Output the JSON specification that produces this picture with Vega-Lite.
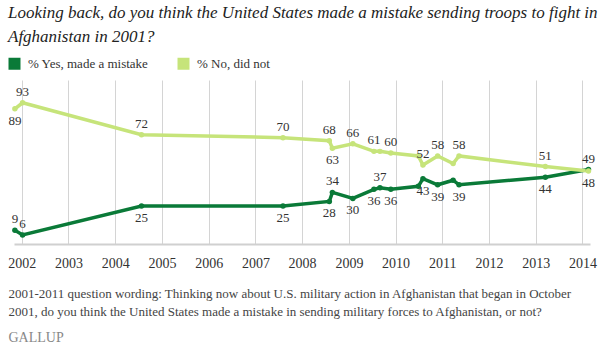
{
  "$schema": "https://vega.github.io/schema/vega-lite/v6.json",
  "width": 576,
  "height": 164,
  "autosize": {"type": "none"},
  "padding": {"left": 14, "top": 80, "right": 18, "bottom": 109},
  "background": "white",
  "title": {
    "text": ["Looking back, do you think the United States made a mistake sending troops to fight in", "Afghanistan in 2001?"],
    "anchor": "start",
    "frame": "group",
    "dx": -6,
    "offset": 11,
    "font": "Liberation Serif",
    "fontStyle": "italic",
    "fontSize": 17,
    "fontWeight": "normal",
    "color": "#222",
    "lineHeight": 24
  },
  "data": {
    "values": [
      {"date": "2001-11-08", "series": "% Yes, made a mistake", "value": 9},
      {"date": "2002-01-07", "series": "% Yes, made a mistake", "value": 6},
      {"date": "2004-07-25", "series": "% Yes, made a mistake", "value": 25},
      {"date": "2007-08-05", "series": "% Yes, made a mistake", "value": 25},
      {"date": "2008-08-01", "series": "% Yes, made a mistake", "value": 28},
      {"date": "2008-08-25", "series": "% Yes, made a mistake", "value": 34},
      {"date": "2009-02-01", "series": "% Yes, made a mistake", "value": 30},
      {"date": "2009-07-16", "series": "% Yes, made a mistake", "value": 36},
      {"date": "2009-09-01", "series": "% Yes, made a mistake", "value": 37},
      {"date": "2009-11-25", "series": "% Yes, made a mistake", "value": 36},
      {"date": "2010-06-28", "series": "% Yes, made a mistake", "value": 38},
      {"date": "2010-08-03", "series": "% Yes, made a mistake", "value": 43},
      {"date": "2010-11-26", "series": "% Yes, made a mistake", "value": 39},
      {"date": "2011-03-27", "series": "% Yes, made a mistake", "value": 42},
      {"date": "2011-05-12", "series": "% Yes, made a mistake", "value": 39},
      {"date": "2013-03-17", "series": "% Yes, made a mistake", "value": 44},
      {"date": "2014-02-17", "series": "% Yes, made a mistake", "value": 49},
      {"date": "2001-11-08", "series": "% No, did not", "value": 89},
      {"date": "2002-01-07", "series": "% No, did not", "value": 93},
      {"date": "2004-07-25", "series": "% No, did not", "value": 72},
      {"date": "2007-08-05", "series": "% No, did not", "value": 70},
      {"date": "2008-08-01", "series": "% No, did not", "value": 68},
      {"date": "2008-08-25", "series": "% No, did not", "value": 63},
      {"date": "2009-02-01", "series": "% No, did not", "value": 66},
      {"date": "2009-07-16", "series": "% No, did not", "value": 61},
      {"date": "2009-09-01", "series": "% No, did not", "value": 61},
      {"date": "2009-11-25", "series": "% No, did not", "value": 60},
      {"date": "2010-06-28", "series": "% No, did not", "value": 58},
      {"date": "2010-08-03", "series": "% No, did not", "value": 52},
      {"date": "2010-11-26", "series": "% No, did not", "value": 58},
      {"date": "2011-03-27", "series": "% No, did not", "value": 53},
      {"date": "2011-05-12", "series": "% No, did not", "value": 58},
      {"date": "2013-03-17", "series": "% No, did not", "value": 51},
      {"date": "2014-02-17", "series": "% No, did not", "value": 48}
    ],
    "format": {"parse": {"date": "date"}}
  },
  "encoding": {
    "x": {
      "field": "date",
      "type": "temporal",
      "scale": {"domain": ["2001-11-01", "2014-03-01"]},
      "axis": {
        "format": "%Y",
        "tickCount": {"interval": "year", "step": 1},
        "grid": true,
        "gridColor": "#d4d4d4",
        "gridWidth": 1,
        "ticks": false,
        "domain": true,
        "domainColor": "#d0d0d0",
        "domainWidth": 2,
        "labelFont": "Liberation Serif",
        "labelFontSize": 14,
        "labelColor": "#333",
        "labelPadding": 12,
        "labelFlush": false,
        "labelOverlap": false,
        "title": ["2001-2011 question wording: Thinking now about U.S. military action in Afghanistan that began in October", "2001, do you think the United States made a mistake in sending military forces to Afghanistan, or not?"],
        "titleAnchor": "start",
        "titleAlign": "left",
        "titleBaseline": "top",
        "titleX": -6,
        "titleY": 43,
        "titleFont": "Liberation Serif",
        "titleFontSize": 13,
        "titleFontWeight": "normal",
        "titleColor": "#444",
        "titleLineHeight": 18
      }
    },
    "y": {
      "field": "value",
      "type": "quantitative",
      "scale": {"domain": [0, 108], "nice": false},
      "axis": {
        "labels": false,
        "ticks": false,
        "domain": false,
        "grid": false,
        "title": "GALLUP",
        "titleAngle": 0,
        "titleAlign": "left",
        "titleBaseline": "middle",
        "titleX": -6,
        "titleY": 257,
        "titleFont": "Liberation Serif",
        "titleFontSize": 14,
        "titleFontWeight": "normal",
        "titleColor": "#888"
      }
    }
  },
  "layer": [
    {
      "mark": {"type": "line", "strokeWidth": 3.5},
      "encoding": {
        "color": {
          "field": "series",
          "type": "nominal",
          "scale": {"domain": ["% Yes, made a mistake", "% No, did not"], "range": ["#0a7a38", "#c6e47a"]},
          "legend": {
            "orient": "none",
            "legendX": -6,
            "legendY": -23,
            "direction": "horizontal",
            "title": null,
            "symbolType": "square",
            "symbolSize": 144,
            "columnPadding": 28,
            "labelFont": "Liberation Serif",
            "labelFontSize": 13,
            "labelColor": "#333",
            "labelOffset": 7,
            "padding": 0,
            "encode": {"symbols": {"update": {"fill": {"scale": "color", "field": "value"}, "fillOpacity": {"value": 1}, "strokeWidth": {"value": 0}}}}
          }
        }
      }
    },
    {
      "mark": {"type": "point", "filled": true, "size": 30, "opacity": 1},
      "encoding": {
        "color": {"field": "series", "type": "nominal", "legend": null}
      }
    },
    {
      "transform": [
        {"filter": "(datum.series == '% No, did not' && indexof(['2001-11-08','2008-08-25','2014-02-17','2009-09-01','2010-06-28','2011-03-27'], utcFormat(datum.date, '%Y-%m-%d')) < 0) || (datum.series == '% Yes, made a mistake' && indexof(['2001-11-08','2002-01-07','2008-08-25','2009-09-01','2014-02-17'], utcFormat(datum.date, '%Y-%m-%d')) >= 0)"}
      ],
      "mark": {"type": "text", "dy": -11, "font": "Liberation Serif", "fontSize": 13, "color": "#333"},
      "encoding": {"text": {"field": "value", "type": "quantitative"}}
    },
    {
      "transform": [
        {"filter": "(datum.series == '% No, did not' && indexof(['2001-11-08','2008-08-25','2014-02-17'], utcFormat(datum.date, '%Y-%m-%d')) >= 0) || (datum.series == '% Yes, made a mistake' && indexof(['2001-11-08','2002-01-07','2008-08-25','2009-09-01','2014-02-17','2010-06-28','2011-03-27'], utcFormat(datum.date, '%Y-%m-%d')) < 0)"}
      ],
      "mark": {"type": "text", "dy": 12, "font": "Liberation Serif", "fontSize": 13, "color": "#333"},
      "encoding": {"text": {"field": "value", "type": "quantitative"}}
    }
  ],
  "config": {
    "view": {"stroke": null},
    "font": "Liberation Serif",
    "text": {"font": "Liberation Serif"},
    "axis": {"labelFont": "Liberation Serif", "titleFont": "Liberation Serif"},
    "legend": {"labelFont": "Liberation Serif"},
    "title": {"font": "Liberation Serif"}
  }
}
